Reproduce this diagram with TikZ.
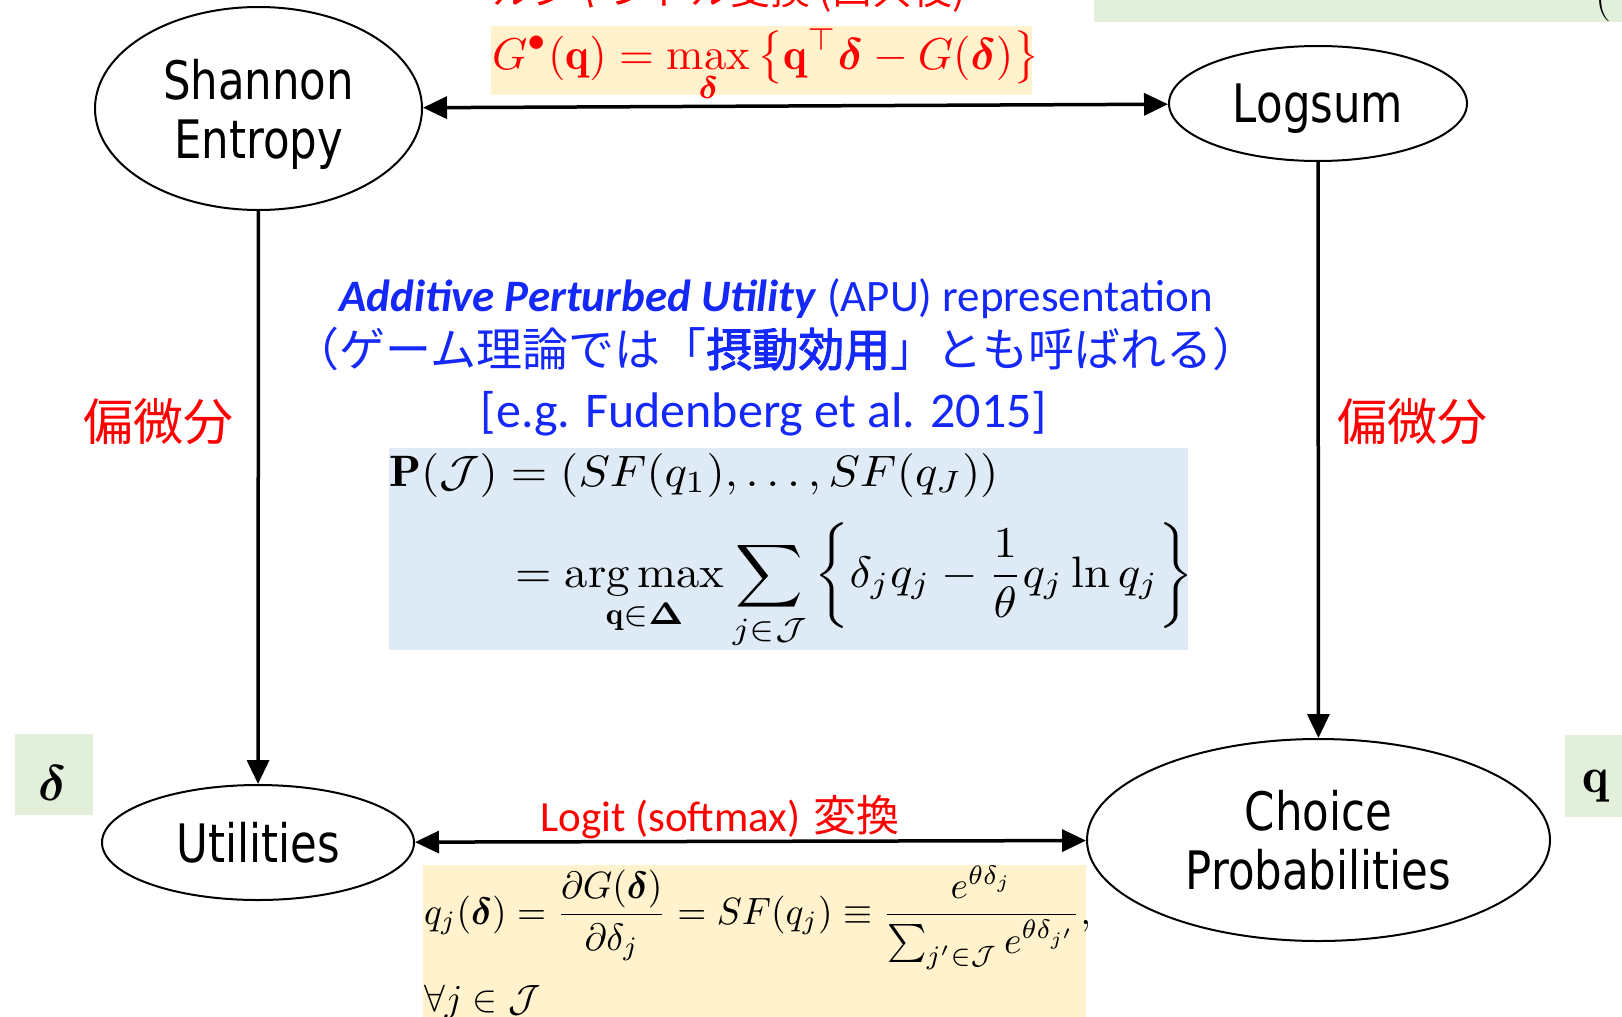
\RequirePackage{fix-cm}
\documentclass[tikz,border=0pt]{standalone}
\usepackage{amsmath}
\usepackage{bm}
\usepackage{graphicx}
\usepackage{fontspec}
\usetikzlibrary{shapes.geometric,arrows.meta}
\newfontfamily\nodefont[FakeStretch=0.82]{DejaVu Sans}
\newfontfamily\carl{Carlito}
\newfontfamily\jp[AutoFakeBold=2]{Noto Sans CJK JP}
\definecolor{lyellow}{RGB}{255,242,204}
\definecolor{lblue}{RGB}{222,235,247}
\definecolor{lgreen}{RGB}{226,239,218}
\definecolor{apublue}{RGB}{20,40,250}
\definecolor{pured}{RGB}{255,0,0}
\tikzset{
  ell/.style={ellipse, draw, line width=2pt, inner sep=0pt, align=center, text depth=0pt,
    font=\nodefont\fontsize{53}{59}\selectfont},
  arr/.style={line width=3.5pt, -{Triangle[length=24pt,width=22pt]}},
  darr/.style={line width=3.5pt, {Triangle[length=24pt,width=22pt]}-{Triangle[length=24pt,width=22pt]}},
  mathtxt/.style={anchor=base west, inner sep=0pt, font=\fontsize{10}{12}\selectfont},
  redjp/.style={text=pured, font=\jp\fontsize{50}{56}\selectfont},
}
\begin{document}
\begin{tikzpicture}[x=1pt,y=-1pt]
\useasboundingbox (0,0) rectangle (1622,1017);
\clip (0,0) rectangle (1622,1017);
% background boxes
\fill[lyellow] (491,26) rectangle (1032,95);
\fill[lblue] (389,448) rectangle (1188,650);
\fill[lyellow] (423,865) rectangle (1086,1017);
\fill[lgreen] (15,734) rectangle (93,815);
\fill[lgreen] (1565,735) rectangle (1622,817);
\fill[lgreen] (1094,0) rectangle (1622,22);
% ellipses
\node[ell, minimum width=327pt, minimum height=203pt] (s) at (258.5,108.5) {Shannon\\Entropy};
\node[ell, minimum width=298pt, minimum height=115pt] (l) at (1318,103.5) {Logsum};
\node[ell, minimum width=312pt, minimum height=115pt] (u) at (258,842.5) {Utilities};
\node[ell, minimum width=463pt, minimum height=202pt] (c) at (1318.5,840) {Choice\\Probabilities};
% connectors
\draw[darr] (s) -- (l);
\draw[arr] (s) -- (u);
\draw[arr] (l) -- (c);
\draw[darr] (u) -- (c);
% top texts
\node[text=pured, font=\jp\fontsize{40}{48}\selectfont, anchor=base] (legt) at (729,5) {ルジャンドル変換 (凸共役)};
\node[mathtxt, text=pured] (gf) at (492,69)
  {\scalebox{4.49}[4.45]{$\displaystyle G^{\bullet}(\mathbf{q}) = \max_{\bm{\delta}} \big\{\mathbf{q}^{\top}\bm{\delta} - G(\bm{\delta})\big\}$}};
\node[anchor=base, font=\fontsize{45}{50}\selectfont] (par) at (1603,10) {(};
% center blue texts
\node[anchor=base, text=apublue, font=\carl\fontsize{45}{52}\selectfont] (t1) at (776,311)
  {\textbf{\textit{Additive Perturbed Utility}} (APU) representation};
\node[text=apublue, font=\jp\fontsize{46}{52}\selectfont] (t2) at (776,349)
  {（ゲーム理論では「\textbf{摂動効用}」とも呼ばれる）};
\node[anchor=base, text=apublue, font=\carl\fontsize{50}{56}\selectfont] (t3) at (764,427)
  {[e.g. Fudenberg et al. 2015]};
% blue formula
\node[mathtxt] (p1) at (389,486)
  {\scalebox{4.68}[4.4]{$\mathbf{P}(\mathcal{J}) = (SF(q_1),\ldots,SF(q_J))$}};
\node[mathtxt] (p2) at (515,587)
  {\scalebox{4.68}[4.4]{$\displaystyle = \mathop{\arg\max}\limits_{\mathbf{q}\in\bm{\Delta}} \sum_{j\in\mathcal{J}} \left\{\delta_j q_j - \frac{1}{\theta} q_j \ln q_j\right\}$}};
% side labels
\node[redjp] (pd1) at (158,422) {偏微分};
\node[redjp] (pd2) at (1412,422) {偏微分};
\node[text=pured, font=\fontsize{43}{50}\selectfont] (logit) at (720,817) {{\carl Logit (softmax)} {\jp 変換}};
% bottom formula
\node[mathtxt] (f1) at (424,924)
  {\scalebox{3.74}[3.8]{$\displaystyle q_j(\bm{\delta}) = \frac{\partial G(\bm{\delta})}{\partial\delta_j} = SF(q_j) \equiv \frac{e^{\theta\delta_j}}{\sum_{j'\in\mathcal{J}} e^{\theta\delta_{j'}}},$}};
\node[mathtxt] (f2) at (424,1011) {\scalebox{3.74}[3.8]{$\forall j\in\mathcal{J}$}};
% delta and q
\node[font=\fontsize{50}{56}\selectfont] (dl) at (53,783) {$\bm{\delta}$};
\node[font=\fontsize{50}{56}\selectfont] (ql) at (1596,786) {$\mathbf{q}$};
\end{tikzpicture}
\end{document}
